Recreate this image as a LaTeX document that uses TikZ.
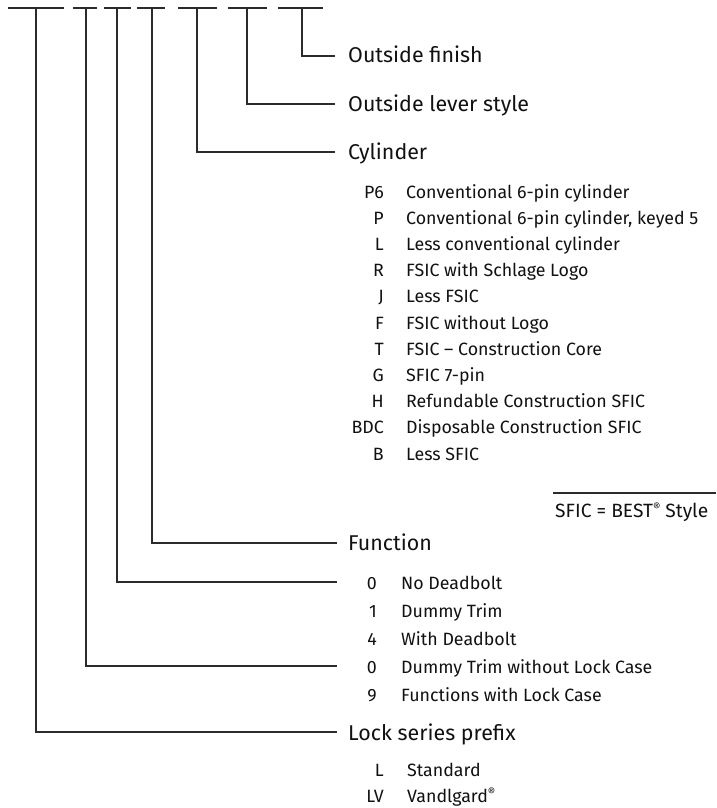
\documentclass[tikz,border=0pt]{standalone}
\usepackage{fontspec}
\setmainfont{Fira Sans}
\definecolor{ink}{HTML}{111111}
\definecolor{wire}{HTML}{2B2B2B}
\newcommand{\regmark}{\raisebox{5.5pt}{\fontsize{11.5}{11.5}\selectfont ®}}
\begin{document}
\begin{tikzpicture}[x=1pt,y=-1pt,
  conn/.style={draw=wire, line width=1.1pt, line join=miter},
  lbl/.style={anchor=base west, inner sep=0pt, text=ink, font=\fontsize{21.4}{24}\selectfont},
  codetxt/.style={anchor=base east, inner sep=0pt, text=ink, font=\fontsize{17.8}{20}\selectfont},
  desctxt/.style={anchor=base west, inner sep=0pt, text=ink, font=\fontsize{17.8}{20}\selectfont},
]
\useasboundingbox (0,0) rectangle (716,808);

% top dashes
\foreach \a/\b in {8/64,73/97,104/131,137/165,178/217,228/267,278/323}
  \draw[conn] (\a,8) -- (\b,8);

% top coordinates of the connectors
\coordinate (t1) at (36,8);
\coordinate (t2) at (86,8);
\coordinate (t3) at (117,8);
\coordinate (t4) at (152,8);
\coordinate (t5) at (197,8);
\coordinate (t6) at (247,8);
\coordinate (t7) at (302,8);

% end coordinates
\coordinate (e7) at (335,56);
\coordinate (e6) at (335,104);
\coordinate (e5) at (335,152);
\coordinate (e4) at (337,543);
\coordinate (e3) at (337,582);
\coordinate (e2) at (337,666);
\coordinate (e1) at (337,732);

% labels
\node[lbl] (outfin) at (348,63) {Outside finish};
\node[lbl] (outlev) at (348,111) {Outside lever style};
\node[lbl] (cyl) at (348,159) {Cylinder};
\node[lbl] (func) at (348,550) {Function};
\node[lbl] (prefix) at (348,740) {Lock series prefix};

% connectors
\draw[conn] (t7) |- (e7);
\draw[conn] (t6) |- (e6);
\draw[conn] (t5) |- (e5);
\draw[conn] (t4) |- (e4);
\draw[conn] (t3) |- (e3);
\draw[conn] (t2) |- (e2);
\draw[conn] (t1) |- (e1);

% cylinder options
\foreach \c/\d [count=\i from 0] in {P6/Conventional 6-pin cylinder,
  P/{Conventional 6-pin cylinder, keyed 5},
  L/Less conventional cylinder,
  R/FSIC with Schlage Logo,
  J/Less FSIC,
  F/FSIC without Logo,
  T/FSIC – Construction Core,
  G/SFIC 7-pin,
  H/Refundable Construction SFIC,
  BDC/Disposable Construction SFIC,
  B/Less SFIC}
{
  \node[codetxt] (cc\i) at (384,{198+26.2*\i}) {\c};
  \node[desctxt] (cd\i) at (406,{198+26.2*\i}) {\d};
}

% SFIC note
\coordinate (n1) at (553,493);
\coordinate (n2) at (716,493);
\draw[conn] (n1) -- (n2);
\node[desctxt, font=\fontsize{19.2}{21}\selectfont] (note) at (555,517) {SFIC = BEST\regmark{} Style};

% function options
\foreach \c/\d [count=\i from 0] in {0/No Deadbolt,
  1/Dummy Trim,
  4/With Deadbolt,
  0/Dummy Trim without Lock Case,
  9/Functions with Lock Case}
{
  \node[codetxt] (fc\i) at (377,{589+28*\i}) {\c};
  \node[desctxt] (fd\i) at (401,{589+28*\i}) {\d};
}

% prefix options
\node[codetxt] (pc0) at (384,776) {L};
\node[desctxt] (pd0) at (407,776) {Standard};
\node[codetxt] (pc1) at (384,802) {LV};
\node[desctxt] (pd1) at (407,802) {Vandlgard\regmark};
\end{tikzpicture}
\end{document}
